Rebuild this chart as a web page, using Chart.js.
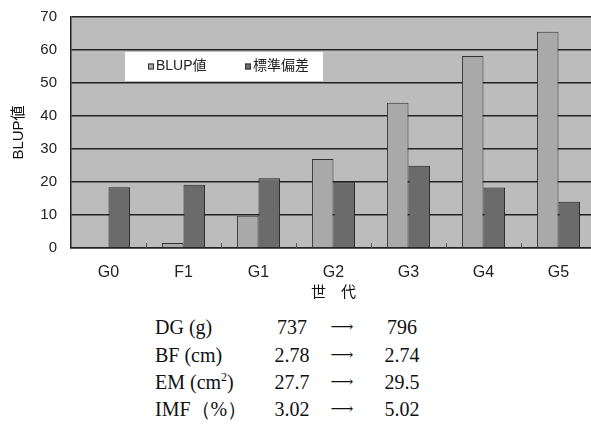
<!DOCTYPE html>
<html>
<head>
<meta charset="utf-8">
<script src="https://cdn.jsdelivr.net/npm/chart.js@4.4.0/dist/chart.umd.min.js"></script>
<style>
  html, body { margin: 0; padding: 0; background: #fff; overflow: hidden; width: 591px; height: 446px; }
  #wrap { position: absolute; left: 0; top: 0; width: 600px; height: 310px; }
  #table { position: absolute; left: 0; top: 0; font-family: "Liberation Serif", "DejaVu Serif", serif; font-size: 20px; color: #111; }
  .cell { position: absolute; white-space: nowrap; line-height: 20px; }
  .mid { width: 70px; text-align: center; }
  .arrow { font-family: "DejaVu Serif", serif; font-size: 16px; }
  sup { font-size: 12px; line-height: 0; }
</style>
</head>
<body>
<div id="wrap"><canvas id="chart" width="600" height="310"></canvas></div>
<div id="table"></div>
<script>
const generations = ["G0", "F1", "G1", "G2", "G3", "G4", "G5"];
const blup_values = [0.3, 1.5, 9.8, 27, 44, 58.2, 65.5];
const sd_values = [18.4, 19.2, 21.1, 19.9, 24.9, 18.3, 14];

const traits = ["DG (g)", "BF (cm)", "EM (cm<sup>2</sup>)", "IMF（%）"];
const before_values = ["737", "2.78", "27.7", "3.02"];
const after_values = ["796", "2.74", "29.5", "5.02"];

const sans = "'Liberation Sans', Arial, 'Noto Sans CJK JP', sans-serif";

// table under the chart
const table_element = document.getElementById("table");
const row_y = [327, 355, 382, 409];
traits.forEach((trait, i) => {
  const top = row_y[i] - 10;
  table_element.innerHTML +=
    `<div class="cell" style="left:155px;top:${top}px">${trait}</div>` +
    `<div class="cell mid" style="left:257px;top:${top}px">${before_values[i]}</div>` +
    `<div class="cell mid arrow" style="left:307px;top:${top}px">&#x27F6;</div>` +
    `<div class="cell mid" style="left:367px;top:${top}px">${after_values[i]}</div>`;
});

// gray plot background
const plotBackground = {
  id: "plotBackground",
  beforeDraw(chart) {
    const { ctx, chartArea } = chart;
    ctx.save();
    ctx.fillStyle = "#bcbcbc";
    ctx.fillRect(chartArea.left, chartArea.top, chartArea.right - chartArea.left, chartArea.bottom - chartArea.top);
    ctx.restore();
  },
};

// legend box inside the plot + small category ticks
const insideLegend = {
  id: "insideLegend",
  afterDraw(chart) {
    const { ctx, chartArea, scales } = chart;
    const y = scales.y;
    const x = scales.x;
    ctx.save();

    ctx.strokeStyle = "#555";
    ctx.lineWidth = 1;
    for (let i = 1; i < generations.length; i++) {
      const px = Math.round((x.getPixelForValue(i - 1) + x.getPixelForValue(i)) / 2) + 0.5;
      ctx.beginPath();
      ctx.moveTo(px, chartArea.bottom - 5);
      ctx.lineTo(px, chartArea.bottom);
      ctx.stroke();
    }

    const top = y.getPixelForValue(60) + 2;
    const bottom = y.getPixelForValue(50) - 2;
    const left = chartArea.left + 54;
    ctx.fillStyle = "#fff";
    ctx.fillRect(left, top, 198, bottom - top);

    const cy = (top + bottom) / 2;
    const items = [
      { x: left + 23, ds: chart.data.datasets[0] },
      { x: left + 120, ds: chart.data.datasets[1] },
    ];
    ctx.font = "14px " + sans;
    ctx.textBaseline = "middle";
    items.forEach((it) => {
      ctx.fillStyle = it.ds.backgroundColor;
      ctx.fillRect(it.x, cy - 3, 6, 6);
      ctx.strokeStyle = "#333";
      ctx.strokeRect(it.x + 0.5, cy - 2.5, 5, 5);
      ctx.fillStyle = "#222";
      ctx.fillText(it.ds.label, it.x + 8, cy);
    });
    ctx.restore();
  },
};

new Chart(document.getElementById("chart"), {
  type: "bar",
  data: {
    labels: generations,
    datasets: [
      {
        label: "BLUP値",
        data: blup_values,
        backgroundColor: "#a9a9a9",
        borderColor: "#333",
        borderWidth: 1,
        categoryPercentage: 0.575,
        barPercentage: 1,
      },
      {
        label: "標準偏差",
        data: sd_values,
        backgroundColor: "#6b6b6b",
        borderColor: "#222",
        borderWidth: 1,
        categoryPercentage: 0.575,
        barPercentage: 1,
      },
    ],
  },
  options: {
    responsive: false,
    animation: false,
    layout: { padding: { top: 17, right: 4, left: 0, bottom: 5 } },
    plugins: { legend: { display: false }, tooltip: { enabled: false } },
    scales: {
      x: {
        grid: { display: false, drawTicks: false },
        border: { display: true, color: "#222", width: 1.5 },
        ticks: { font: { family: sans, size: 16 }, color: "#222", padding: 15 },
        title: { display: true, text: "世　代", font: { family: sans, size: 15 }, color: "#111", padding: { top: 4, bottom: 3 } },
        afterFit(scale) {
          scale.height = 57;
        },
      },
      y: {
        min: 0,
        max: 70,
        ticks: { stepSize: 10, padding: 14, font: { family: sans, size: 15 }, color: "#222" },
        grid: { color: "#222", lineWidth: 1.5, drawTicks: false },
        border: { display: true, color: "#222", width: 1.5 },
        title: { display: true, text: "BLUP値", font: { family: sans, size: 15 }, color: "#111", padding: { top: 10, bottom: 0 } },
        afterFit(scale) {
          scale.width = 71;
          scale.paddingTop = 0;
        },
      },
    },
  },
  plugins: [plotBackground, insideLegend],
});
</script>
</body>
</html>
